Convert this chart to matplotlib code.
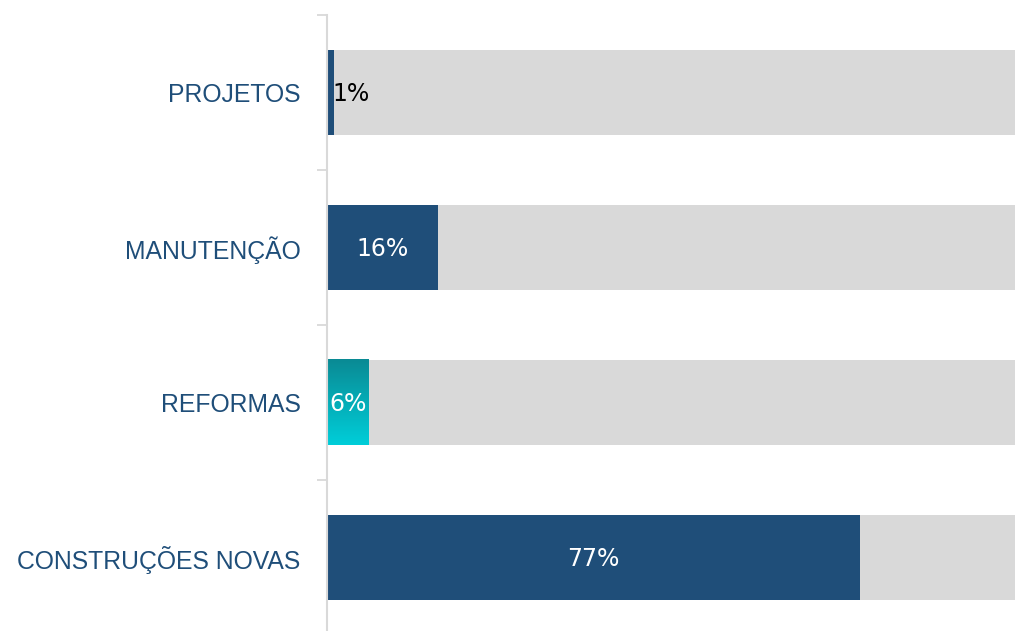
import matplotlib
matplotlib.use("Agg")
import matplotlib.pyplot as plt
import numpy as np
from matplotlib.colors import LinearSegmentedColormap

categories = ["CONSTRUÇÕES NOVAS", "REFORMAS", "MANUTENÇÃO", "PROJETOS"]
values = [77, 6, 16, 1]
total = [100, 100, 100, 100]
labels = ["77%", "6%", "16%", "1%"]

DARK = "#1F4E79"
GREY = "#D9D9D9"

fig = plt.figure(figsize=(10.15, 6.31), dpi=100)
W, H = 1015, 631
x0, x1 = 327, 1019
ytop, ybot = 15, 635
ax = fig.add_axes([x0 / W, (H - ybot) / H, (x1 - x0) / W, (ybot - ytop) / H])

y = np.arange(len(categories))
h = 0.55
ax.barh(y, total, height=h, color=GREY, zorder=1)
bars = ax.barh(y, values, height=h, color=DARK, zorder=2)

# gradient for REFORMAS
p = bars[1]
bx, by, bw, bh = p.get_x(), p.get_y(), p.get_width(), p.get_height()
p.set_visible(False)
cmap = LinearSegmentedColormap.from_list("teal", ["#00CED9", "#0A8A94"])
grad = np.linspace(0, 1, 256).reshape(-1, 1)
ax.imshow(grad, extent=[bx, bx + bw, by, by + bh], origin="lower", cmap=cmap,
          aspect="auto", zorder=3)

for i, (v, lab) in enumerate(zip(values, labels)):
    if v < 3:
        ax.text(v - 0.2, i - 0.01, lab, ha="left", va="center", color="black",
                fontsize=17, family="DejaVu Sans", zorder=5)
    else:
        ax.text(v / 2, i - 0.01, lab, ha="center", va="center", color="white",
                fontsize=17, family="DejaVu Sans", zorder=5)

ax.set_xlim(0, 100)
ax.set_ylim(-0.5, len(categories) - 0.5)
ax.set_xticks([])
ax.set_yticks(y)
ax.set_yticklabels(categories, fontsize=17.8, color=DARK, family="Liberation Sans")
ax.tick_params(axis="y", which="major", length=0, pad=19)
ax.set_yticks(np.arange(-0.5, len(categories)), minor=True)
ax.tick_params(axis="y", which="minor", length=7, width=1.3, color=GREY)

for s in ["top", "right", "bottom"]:
    ax.spines[s].set_visible(False)
ax.spines["left"].set_color(GREY)
ax.spines["left"].set_linewidth(1.5)
ax.spines["left"].set_zorder(6)

fig.savefig("out.png", dpi=100)
